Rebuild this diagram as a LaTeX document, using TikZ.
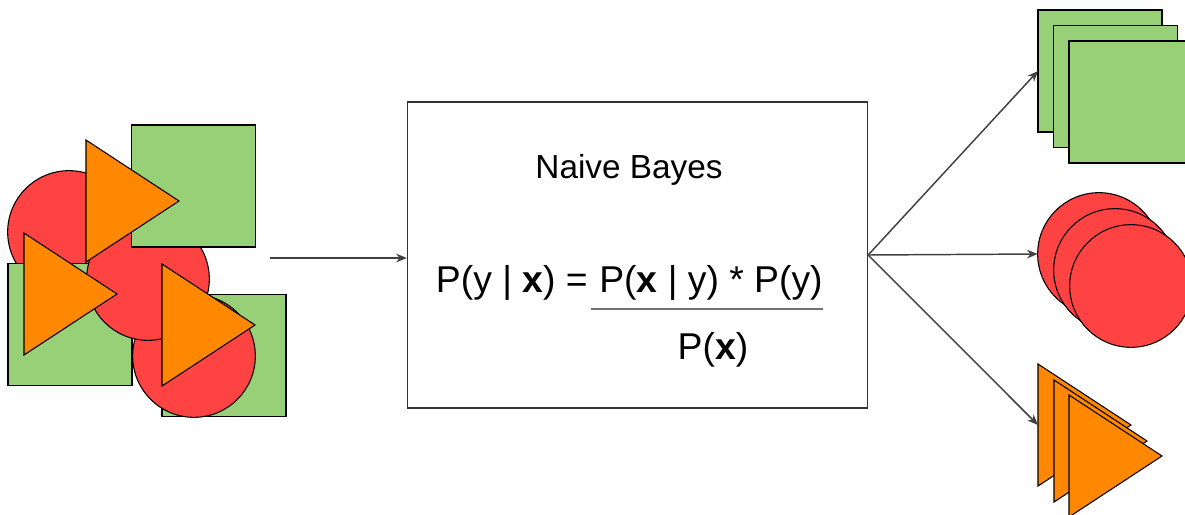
\documentclass[tikz,border=0pt]{standalone}
\usepackage{fontspec}
\setmainfont{Liberation Sans}
\usepackage{tikz}
\usetikzlibrary{shapes.geometric, arrows.meta, calc}
\definecolor{sqgreen}{HTML}{97D077}
\definecolor{circred}{HTML}{FF4242}
\definecolor{triorange}{HTML}{FF8800}
\tikzstyle{sq} = [rectangle, draw=black, fill=sqgreen, minimum width=93pt, minimum height=91.5pt, inner sep=0, outer sep=0, line width=0.8pt]
\tikzstyle{circ} = [circle, draw=black, fill=circred, minimum size=92pt, inner sep=0, outer sep=0, line width=0.8pt]
\tikzstyle{tri} = [isosceles triangle, isosceles triangle stretches, draw=black, fill=triorange, minimum width=91.5pt, minimum height=69.75pt, inner sep=0, outer sep=0, line width=0.8pt, anchor=west]
\tikzstyle{arrow} = [line width=1.1pt, draw=black!75, -{Stealth[length=8pt,width=6.5pt]}]

\begin{document}
\begin{tikzpicture}[x=0.75pt, y=-0.75pt, every node/.style={font=\fontsize{28}{33}\selectfont}]
  \useasboundingbox (0,0) rectangle (1185,514);
  \clip (0,0) rectangle (1185,514);

  % input pile
  \node[circ] (inc1) at (69,232) {};
  \node[sq] (insq1) at (70,324.5) {};
  \node[sq] (insq2) at (224,355.5) {};
  \node[circ] (inc2) at (194,356) {};
  \node[circ] (inc3) at (148,279) {};
  \node[sq] (insq3) at (193.5,186) {};
  \node[tri] (intri1) at (86,201) {};
  \node[tri] (intri2) at (24,294) {};
  \node[tri] (intri3) at (162,325) {};

  % classifier
  \node[draw=black!80, line width=1pt, minimum width=345pt, minimum height=229.5pt] (nb) at (637.5,255) {};
  \node[anchor=base, font=\fontsize{25}{30}\selectfont] (title) at (629,178) {Naive Bayes};
  \node[anchor=base, inner sep=0] (num) at (711,292) {P(\textbf{x} | y) * P(y)};
  \node[anchor=base east, inner sep=0] (lhs) at ($(num.base west)+(-11,0)$) {P(y | \textbf{x}) =};
  \node[anchor=base, inner sep=0] (den) at (713,359) {P(\textbf{x})};
  \draw[black!55, line width=1pt] ($(num.base west)+(-8,17)$) -- ($(num.base east)+(0,17)$);

  % sorted output
  \node[sq] (outsq1) at (1100,71) {};
  \node[sq] (outsq2) at (1115.5,86.5) {};
  \node[sq] (outsq3) at (1131,102) {};
  \node[circ] (outc1) at (1099,254) {};
  \node[circ] (outc2) at (1115,270) {};
  \node[circ] (outc3) at (1131,286) {};
  \node[tri] (outtri1) at (1038,425) {};
  \node[tri] (outtri2) at (1054,441) {};
  \node[tri] (outtri3) at (1069,456) {};

  \coordinate (in) at (270,258);
  \draw[arrow] (in) -- (in -| nb.west);
  \draw[arrow] (nb.east) -- (outsq1.west);
  \draw[arrow] (nb.east) -- (outc1.west);
  \draw[arrow] (nb.east) -- (outtri1.west);
\end{tikzpicture}
\end{document}
